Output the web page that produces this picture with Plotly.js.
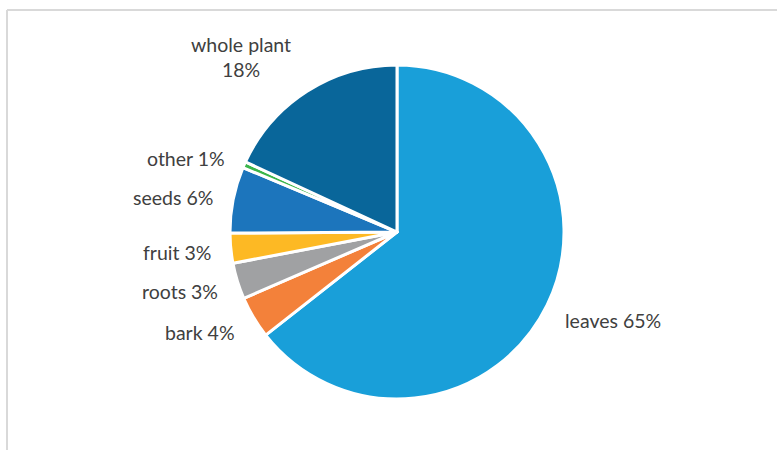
<!DOCTYPE html>
<html>
<head>
<meta charset="utf-8">
<script src="https://cdn.plot.ly/plotly-3.0.1.min.js"></script>
<style>
html, body { margin: 0; padding: 0; background: #ffffff; }
#chart { width: 777px; height: 450px; }
</style>
</head>
<body>
<div id="chart"></div>
<script>
const categories = ["leaves", "bark", "roots", "fruit", "seeds", "other", "whole plant"];
const values = [64.4, 4.1, 3.5, 2.9, 6.4, 0.6, 18.1];
const percentLabels = ["65%", "4%", "3%", "3%", "6%", "1%", "18%"];
const colors = ["#199FD9", "#F3813A", "#A0A1A3", "#FDB924", "#1C75BC", "#3BB54A", "#09669A"];

// Label placement (pixels in the 777x450 picture), kept apart from the data
const labelPos = [
  { x: 564, y: 320, anchor: "left" },
  { x: 236, y: 332, anchor: "right" },
  { x: 219, y: 291, anchor: "right" },
  { x: 212, y: 253, anchor: "right" },
  { x: 214, y: 198, anchor: "right" },
  { x: 226, y: 158, anchor: "right" },
  { x: 241, y: 57, anchor: "center" }
];

const W = 777, H = 450;
const labelFont = { family: "Lato, 'Open Sans', sans-serif", size: 19.5, color: "#404040" };

const annotations = categories.map((c, i) => ({
  xref: "paper", yref: "paper",
  x: labelPos[i].x / W, y: 1 - labelPos[i].y / H,
  xanchor: labelPos[i].anchor, yanchor: "middle",
  text: c === "whole plant" ? c + "<br>" + percentLabels[i] : c + " " + percentLabels[i],
  showarrow: false,
  borderpad: 0,
  font: labelFont
}));

const trace = {
  type: "pie",
  labels: categories,
  values: values,
  textinfo: "none",
  sort: false,
  direction: "clockwise",
  rotation: 0,
  marker: { colors: colors, line: { color: "#ffffff", width: 3 } },
  domain: { x: [230 / W, 564 / W], y: [(H - 399) / H, (H - 65) / H] },
  showlegend: false,
  hoverinfo: "label+percent"
};

const layout = {
  width: W,
  height: H,
  margin: { l: 0, r: 0, t: 0, b: 0 },
  paper_bgcolor: "#ffffff",
  showlegend: false,
  annotations: annotations,
  shapes: [
    { type: "line", xref: "paper", yref: "paper", x0: 7 / W, x1: 1.02, y0: (H - 10) / H, y1: (H - 10) / H, line: { color: "#d9d9d9", width: 2 } },
    { type: "line", xref: "paper", yref: "paper", x0: 7 / W, x1: 7 / W, y0: (H - 10) / H, y1: -0.02, line: { color: "#d9d9d9", width: 2 } }
  ]
};

Plotly.newPlot("chart", [trace], layout, { staticPlot: true, displayModeBar: false });
</script>
</body>
</html>
